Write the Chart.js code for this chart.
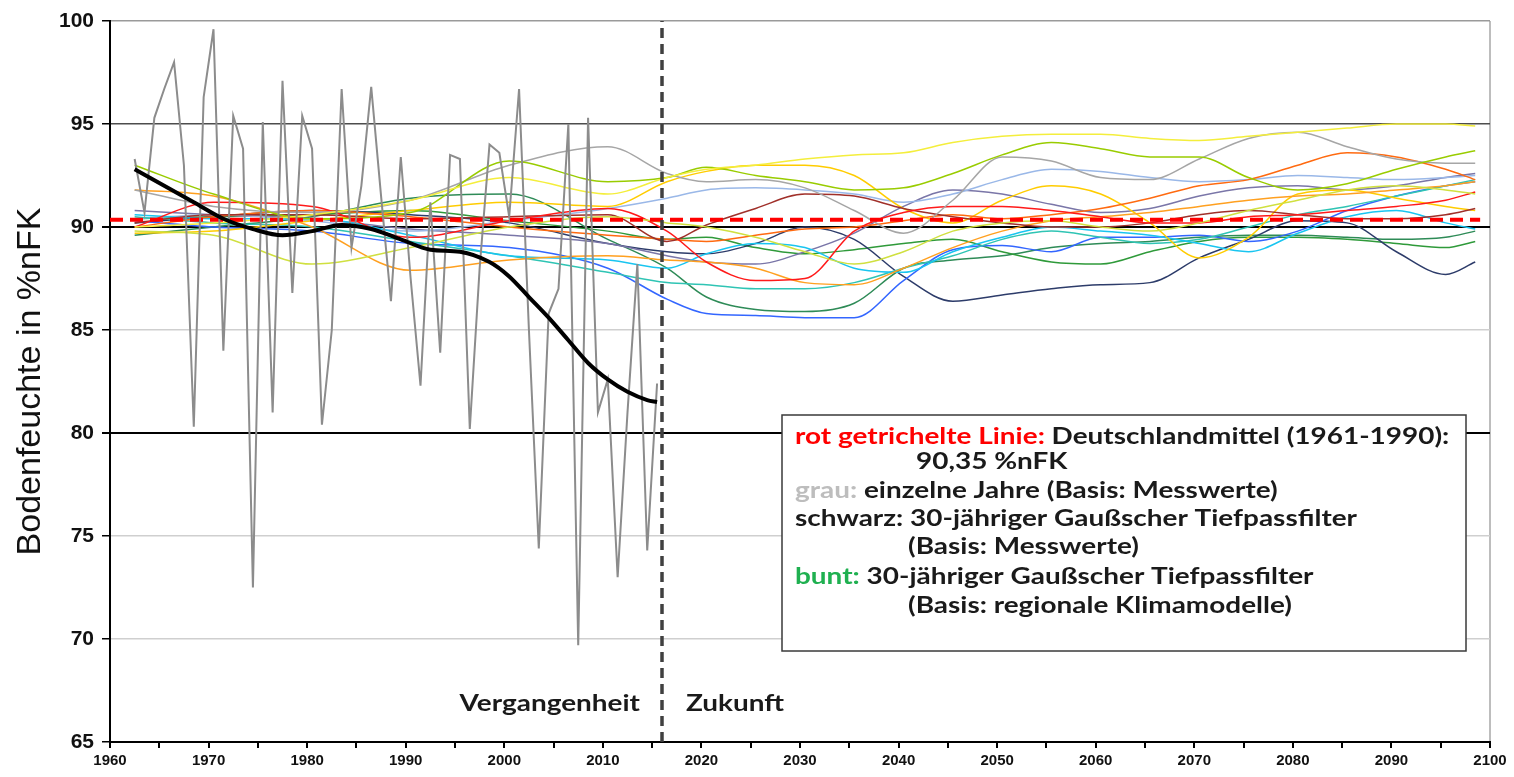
<!DOCTYPE html>
<html>
<head>
<meta charset="utf-8">
<script src="https://cdn.jsdelivr.net/npm/chart.js@4/dist/chart.umd.min.js"></script>
<style>
  html, body { margin: 0; padding: 0; background: #fff; }
  #wrap { width: 1514px; height: 777px; position: relative; }
</style>
</head>
<body>
<div id="wrap"><canvas id="Chart"></canvas></div>
<script>
// measured single years (grau)
const obsYears = []
for (let y = 1962; y <= 2015; y++) obsYears.push(y)
const obsValues = [
    93.3, 90.7, 95.3, 96.7, 98.0, 93.0, 80.3, 96.3, 99.6, 84.0,
    95.4, 93.8, 72.5, 95.1, 81.0, 97.1, 86.8, 95.4, 93.8, 80.4,
    85.0, 96.7, 89.0, 92.0, 96.8, 91.5, 86.4, 93.4, 87.5, 82.3,
    91.2, 83.9, 93.5, 93.3, 80.2, 88.0, 94.0, 93.6, 90.5, 96.7,
    85.0, 74.4, 85.8, 87.0, 95.0, 69.7, 95.3, 81.0, 82.6, 73.0,
    81.0, 88.2, 74.3, 82.4
]

// 30-year gauss filter of the measurements (schwarz)
const smoothYears  = [1962, 1965, 1968, 1971, 1974, 1977, 1980, 1983, 1986, 1989, 1992, 1995, 1998, 2000, 2002, 2004, 2006, 2008, 2010, 2012, 2014, 2015]
const smoothValues = [92.8, 92.0, 91.2, 90.4, 89.9, 89.6, 89.8, 90.1, 89.9, 89.4, 88.9, 88.8, 88.3, 87.6, 86.6, 85.6, 84.5, 83.4, 82.6, 82.0, 81.6, 81.5]

// regional climate models (bunt), all sampled on the same years
const modelYears = [1962, 1970, 1980, 1990, 2000, 2010, 2016, 2020, 2025, 2030, 2035, 2040, 2045, 2050, 2055, 2060, 2065, 2070, 2075, 2080, 2085, 2090, 2095, 2098]
const modelYellow     = [90.0, 90.2, 90.6, 91.3, 92.4, 91.6, 92.4, 92.8, 93.0, 93.3, 93.5, 93.6, 94.1, 94.4, 94.5, 94.5, 94.3, 94.2, 94.4, 94.6, 94.8, 95.0, 95.0, 94.9]
const modelYellowGreen = [93.0, 91.6, 90.4, 90.7, 93.2, 92.2, 92.4, 92.9, 92.5, 92.2, 91.8, 91.9, 92.6, 93.5, 94.1, 93.8, 93.4, 93.4, 92.4, 91.8, 92.1, 92.8, 93.4, 93.7]
const modelLime       = [89.8, 89.6, 88.2, 89.0, 90.0, 90.5, 90.2, 90.0, 89.5, 88.8, 88.2, 88.8, 89.8, 90.2, 90.3, 90.0, 89.8, 90.2, 90.8, 91.3, 91.8, 92.0, 91.8, 91.6]
const modelGray       = [91.8, 91.0, 90.7, 91.3, 93.0, 93.9, 92.6, 92.2, 92.3, 91.9, 90.8, 89.7, 91.3, 93.4, 93.2, 92.4, 92.3, 93.3, 94.3, 94.6, 93.9, 93.3, 93.1, 93.1]
const modelRed        = [90.0, 91.2, 91.0, 89.5, 90.3, 90.9, 89.8, 88.3, 87.4, 87.5, 89.8, 90.7, 91.0, 91.0, 90.8, 90.5, 90.2, 90.2, 90.5, 90.6, 90.8, 91.0, 91.3, 91.7]
const modelDarkRed    = [90.2, 90.6, 90.6, 90.4, 90.5, 90.6, 89.3, 90.1, 90.9, 91.6, 91.5, 90.9, 90.5, 90.2, 90.0, 90.0, 90.2, 90.6, 90.8, 90.6, 90.4, 90.4, 90.6, 90.9]
const modelOrange     = [90.0, 90.5, 90.8, 90.5, 90.0, 89.6, 89.4, 89.3, 89.6, 89.9, 90.0, 90.3, 90.6, 90.4, 90.6, 90.9, 91.4, 92.0, 92.3, 93.0, 93.6, 93.4, 92.8, 92.3]
const modelLightOrange = [91.8, 91.5, 90.0, 87.9, 88.4, 88.6, 88.4, 88.3, 88.0, 87.3, 87.2, 88.0, 89.0, 89.8, 90.3, 90.5, 90.7, 91.0, 91.3, 91.5, 91.6, 91.8, 92.0, 92.2]
const modelGold       = [89.7, 89.8, 90.3, 90.8, 91.2, 91.0, 92.2, 92.7, 93.0, 93.0, 92.5, 90.9, 90.2, 91.3, 92.0, 91.6, 90.2, 88.5, 89.5, 91.6, 91.8, 91.4, 91.0, 90.8]
const modelCyan       = [90.6, 90.4, 90.4, 89.6, 88.6, 88.4, 88.0, 88.7, 89.2, 89.0, 88.0, 87.8, 88.8, 89.5, 90.0, 89.8, 89.6, 89.2, 88.8, 89.7, 90.5, 90.8, 90.2, 89.9]
const modelTeal       = [90.5, 90.2, 90.0, 89.3, 88.6, 87.8, 87.3, 87.2, 87.0, 87.0, 87.3, 88.0, 88.6, 89.4, 89.8, 89.5, 89.2, 89.4, 90.0, 90.6, 91.0, 91.5, 92.0, 92.3]
const modelBlue       = [90.3, 90.0, 89.8, 89.2, 89.0, 88.0, 86.5, 85.8, 85.7, 85.6, 85.6, 87.4, 88.9, 89.1, 88.8, 89.5, 89.5, 89.6, 89.3, 89.8, 90.8, 91.5, 92.0, 92.2]
const modelLightBlue  = [90.4, 90.6, 90.3, 89.8, 90.3, 90.9, 91.4, 91.8, 91.9, 91.8, 91.6, 91.2, 91.6, 92.3, 92.8, 92.7, 92.4, 92.2, 92.3, 92.5, 92.4, 92.3, 92.4, 92.5]
const modelPurple     = [90.8, 90.6, 90.4, 89.9, 89.6, 89.2, 88.6, 88.3, 88.2, 88.8, 89.7, 91.0, 91.8, 91.6, 91.1, 90.7, 90.9, 91.5, 91.9, 92.0, 91.8, 92.0, 92.4, 92.6]
const modelNavy       = [90.2, 90.5, 90.8, 90.6, 90.2, 89.2, 88.8, 88.7, 89.2, 90.0, 89.4, 87.6, 86.4, 86.7, 87.0, 87.2, 87.3, 88.5, 89.4, 90.3, 90.2, 88.8, 87.7, 88.3]
const modelGreen      = [90.4, 90.5, 90.6, 90.8, 90.3, 89.8, 89.4, 89.5, 89.0, 88.7, 88.9, 89.2, 89.4, 88.8, 88.3, 88.2, 88.8, 89.3, 89.5, 89.5, 89.4, 89.2, 89.0, 89.3]
const modelDarkGreen  = [89.6, 90.0, 90.5, 91.4, 91.6, 89.4, 88.0, 86.6, 86.0, 85.9, 86.3, 88.0, 88.4, 88.6, 89.0, 89.2, 89.3, 89.5, 89.6, 89.6, 89.5, 89.4, 89.5, 89.8]

const germanyMean = 90.35          // Deutschlandmittel 1961-1990
const meanFrom = 1960
const meanTo = 2099
const boundaryYear = 2016          // Vergangenheit | Zukunft
const yMin = 65
const yMax = 100

const models = [
    [modelYellow, '#f4ee3c'],
    [modelYellowGreen, '#99cc00'],
    [modelLime, '#d0e040'],
    [modelGray, '#a6a6a6'],
    [modelRed, '#ff1a1a'],
    [modelDarkRed, '#a0302a'],
    [modelOrange, '#ff6a10'],
    [modelLightOrange, '#ffa020'],
    [modelGold, '#ffcc00'],
    [modelCyan, '#19c5f0'],
    [modelTeal, '#2fc4b4'],
    [modelBlue, '#3366ff'],
    [modelLightBlue, '#9ab8e8'],
    [modelPurple, '#7a76a8'],
    [modelNavy, '#2d3c6a'],
    [modelGreen, '#2f9a3a'],
    [modelDarkGreen, '#2e8b57']
]

// points are put in the middle of each year
const pts = (years, values) => years.map((y, i) => ({x: y + 0.5, y: values[i]}))

const datasets = []
models.forEach(([vals, col]) => {
    datasets.push({
        data: pts(modelYears, vals),
        borderColor: col,
        borderWidth: 1.5,
        pointRadius: 0,
        cubicInterpolationMode: 'monotone',
        order: 10
    })
})
datasets.push({
    data: [{x: meanFrom, y: germanyMean}, {x: meanTo, y: germanyMean}],
    borderColor: '#ff0000',
    borderWidth: 4,
    borderDash: [13, 7],
    pointRadius: 0,
    order: 5
})
datasets.push({
    data: pts(obsYears, obsValues),
    borderColor: '#8c8c8c',
    borderWidth: 2,
    pointRadius: 0,
    tension: 0,
    order: 4
})
datasets.push({
    data: pts(smoothYears, smoothValues),
    borderColor: '#000000',
    borderWidth: 4,
    pointRadius: 0,
    cubicInterpolationMode: 'monotone',
    order: 3
})
datasets.push({
    data: [{x: boundaryYear, y: yMin}, {x: boundaryYear, y: yMax}],
    borderColor: '#404040',
    borderWidth: 3.5,
    borderDash: [10, 6],
    pointRadius: 0,
    order: 2
})

// the original text is a bold Calibri, drawn a bit wider than it is tall
const txtFont = 'bold 22px Lato, "Open Sans", sans-serif'
const txtStretch = 1.27
const legendLines = [
    {x: 795, y: 437, parts: [['rot getrichelte Linie:', '#ff0000'], [' Deutschlandmittel (1961-1990):', '#1a1a1a']]},
    {x: 916, y: 462, parts: [['90,35 %nFK', '#1a1a1a']]},
    {x: 795, y: 491, parts: [['grau:', '#bdbdbd'], [' einzelne Jahre (Basis: Messwerte)', '#1a1a1a']]},
    {x: 795, y: 519, parts: [['schwarz: 30-jähriger Gaußscher Tiefpassfilter', '#1a1a1a']]},
    {x: 908, y: 547, parts: [['(Basis: Messwerte)', '#1a1a1a']]},
    {x: 795, y: 577, parts: [['bunt:', '#1fb050'], [' 30-jähriger Gaußscher Tiefpassfilter', '#1a1a1a']]},
    {x: 908, y: 606, parts: [['(Basis: regionale Klimamodelle)', '#1a1a1a']]}
]

function wideText(ctx, t, x, y) {
    ctx.save()
    ctx.translate(x, y)
    ctx.scale(txtStretch, 1)
    ctx.fillText(t, 0, 0)
    ctx.restore()
    return ctx.measureText(t).width * txtStretch
}

const textPlugin = {
    id: 'textPlugin',
    afterDraw(chart) {
        const ctx = chart.ctx
        ctx.save()
        // legend box
        ctx.fillStyle = '#ffffff'
        ctx.fillRect(782, 415, 684, 236)
        ctx.strokeStyle = '#3a3a3a'
        ctx.lineWidth = 1.5
        ctx.strokeRect(782, 415, 684, 236)
        ctx.font = txtFont
        ctx.textBaseline = 'middle'
        ctx.textAlign = 'left'
        legendLines.forEach(line => {
            let x = line.x
            line.parts.forEach(([t, c]) => {
                ctx.fillStyle = c
                x += wideText(ctx, t, x, line.y)
            })
        })
        // past / future
        ctx.fillStyle = '#1a1a1a'
        const w = ctx.measureText('Vergangenheit').width * txtStretch
        wideText(ctx, 'Vergangenheit', 640 - w, 704)
        wideText(ctx, 'Zukunft', 686, 704)
        ctx.restore()
    }
}

const tickFont = '"Liberation Sans Narrow", "Liberation Sans", Arial, sans-serif'

const ctx = document.getElementById('Chart').getContext('2d')
const myChart = new Chart(ctx, {
    type: 'line',
    data: {datasets: datasets},
    options: {
        responsive: true,
        maintainAspectRatio: false,
        animation: false,
        layout: {padding: {left: 0, right: 24, top: 21, bottom: 0}},
        plugins: {legend: {display: false}, tooltip: {enabled: false}},
        scales: {
            x: {
                type: 'linear',
                min: 1960,
                max: 2100,
                afterFit: (axis) => { axis.height = 35 },
                ticks: {
                    stepSize: 5,
                    autoSkip: false,
                    maxRotation: 0,
                    padding: 4,
                    color: '#111',
                    font: {family: tickFont, size: 15, weight: 'bold'},
                    callback: (v) => (v % 10 === 0 ? String(v) : '')
                },
                grid: {
                    color: (c) => (c.tick && c.tick.value === 2100 ? '#bdbdbd' : 'rgba(0,0,0,0)'),
                    lineWidth: 2,
                    tickColor: '#000',
                    tickLength: 6
                },
                border: {display: true, color: '#000', width: 2}
            },
            y: {
                min: yMin,
                max: yMax,
                afterFit: (axis) => { axis.width = 110 },
                ticks: {
                    stepSize: 5,
                    padding: 8,
                    color: '#111',
                    font: {family: tickFont, size: 21, weight: 'bold'}
                },
                grid: {
                    color: (c) => {
                        const v = c.tick ? c.tick.value : 0
                        if (v === 80 || v === 90 || v === 65) return '#000'
                        if (v === 95) return '#4d4d4d'
                        if (v === 100) return '#9a9a9a'
                        return '#cfcfcf'
                    },
                    lineWidth: (c) => {
                        const v = c.tick ? c.tick.value : 0
                        return (v === 80 || v === 90) ? 2 : 1.5
                    },
                    tickColor: '#000',
                    tickLength: 8
                },
                border: {display: true, color: '#000', width: 2},
                title: {
                    display: true,
                    text: 'Bodenfeuchte in %nFK',
                    color: '#111',
                    font: {family: '"Liberation Sans", Arial, sans-serif', size: 34},
                    padding: {top: 10, bottom: 0}
                }
            }
        }
    },
    plugins: [textPlugin]
})
</script>
</body>
</html>
